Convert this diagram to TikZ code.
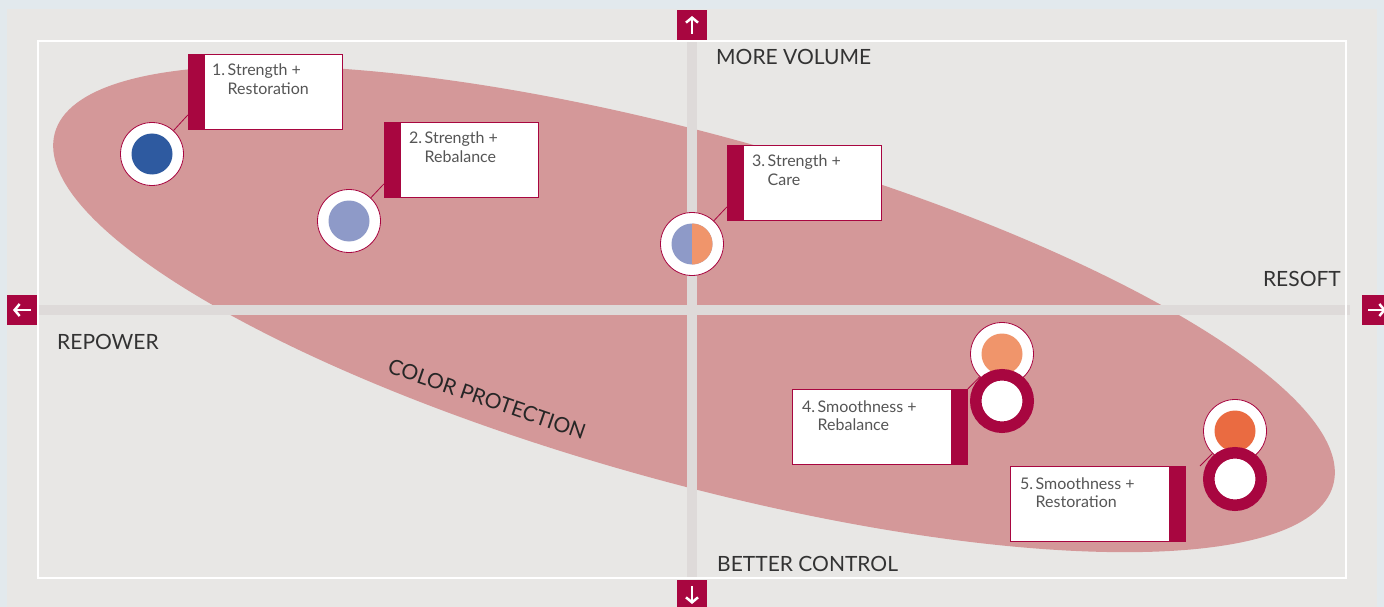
\documentclass[tikz,border=0pt]{standalone}
\usepackage{fontspec}
\setmainfont{Lato}
\usetikzlibrary{positioning,arrows.meta}
\definecolor{crim}{HTML}{A80640}
\definecolor{blush}{HTML}{D49899}
\definecolor{panel}{HTML}{E8E7E5}
\definecolor{frost}{HTML}{E2E9ED}
\definecolor{track}{HTML}{DEDAD9}
\definecolor{navy}{HTML}{2E5AA0}
\definecolor{lilac}{HTML}{8E9AC8}
\definecolor{peach}{HTML}{F0956B}
\definecolor{rust}{HTML}{EA6B41}
\definecolor{ink}{HTML}{333333}
\definecolor{slate}{HTML}{555555}
\newcommand{\entry}[3]{\begin{tabular}[t]{@{}p{15.5pt}@{}l@{}}#1&#2\\&#3\end{tabular}}

\begin{document}
\begin{tikzpicture}[x=1pt,y=-1pt]
\tikzstyle{axis}=[inner sep=0, text=ink, font=\fontsize{21}{25}\selectfont]
\tikzstyle{lbox}=[rectangle, draw=crim, fill=white, line width=0.8pt, minimum height=75pt, inner sep=0, anchor=north west]
\tikzstyle{lbl}=[inner sep=0, text=slate, font=\fontsize{16}{18.5}\selectfont, anchor=base west]
\tikzstyle{dot}=[circle, draw=crim, fill=white, line width=0.8pt, minimum size=63pt, inner sep=0]
\tikzstyle{ring}=[circle, draw=crim, fill=white, line width=11.5pt, minimum size=52.5pt, inner sep=0]
\tikzstyle{connect}=[crim, line width=0.8pt]
\tikzstyle{tab}=[fill=crim, minimum size=30pt, inner sep=0]
\tikzstyle{point}=[white, line width=2.5pt, -{Straight Barb[length=5pt,width=12pt]}]
\useasboundingbox (0,0) rectangle (1384,607);
\clip (0,0) rectangle (1384,607);
\fill[frost] (0,0) rectangle (1384,607);
\fill[panel] (7,9) rectangle (1377,607);
% colour protection zone
\fill[blush, rotate around={-15.4:(694,309)}] (694,309) ellipse (663 and 174);
\fill[track] (687,41) rectangle (697,578);
\fill[track] (37,305) rectangle (1350,315);
\draw[white, line width=2pt] (38,41) rectangle (1346,578);
% axis ends
\node[tab] (up) at (692,25) {};
\node[tab] (down) at (692,595) {};
\node[tab] (left) at (22,310) {};
\node[tab] (right) at (1377,310) {};
\draw[point] ([yshift=-9pt]up.center) -- ([yshift=9pt]up.center);
\draw[point] ([yshift=9pt]down.center) -- ([yshift=-9pt]down.center);
\draw[point] ([xshift=9pt]left.center) -- ([xshift=-9pt]left.center);
\draw[point] ([xshift=-9pt]right.center) -- ([xshift=9pt]right.center);
\node[axis, anchor=base west] (vol) at (716,65) {MORE VOLUME};
\node[axis, anchor=base east] (soft) at (1341,286) {RESOFT};
\node[axis, anchor=base west] (power) at (57,349) {REPOWER};
\node[axis, anchor=base west] (ctrl) at (717,571) {BETTER CONTROL};
\node[inner sep=0, text=black!85, font=\fontsize{21}{25}\selectfont, rotate=-19] (cp) at (487,399) {COLOR PROTECTION};
% markers
\node[dot] (c1) at (152,154) {};
\node[dot] (c2) at (349,221) {};
\node[dot] (c3) at (692,244) {};
\node[dot] (c4) at (1002,354) {};
\node[dot] (c5) at (1235,431) {};
% label boxes
\node[lbox, minimum width=154pt] (b1) at (188,54) {};
\node[lbox, minimum width=154pt] (b2) at (384,122) {};
\node[lbox, minimum width=154pt] (b3) at (727,145) {};
\node[lbox, minimum width=175pt] (b4) at (792,389) {};
\node[lbox, minimum width=175pt] (b5) at (1010,466) {};
\coordinate (p5) at (1200,466);
\path (c1) edge [connect] ([yshift=15pt]b1.south west)
      (c2) edge [connect] ([yshift=14pt]b2.south west)
      (c3) edge [connect] ([yshift=14pt]b3.south west)
      (b4.north east) edge [connect] (c4)
      (p5) edge [connect] (c5);
\fill[crim] (b1.north west) rectangle ([xshift=17pt]b1.south west);
\fill[crim] (b2.north west) rectangle ([xshift=17pt]b2.south west);
\fill[crim] (b3.north west) rectangle ([xshift=17pt]b3.south west);
\fill[crim] ([xshift=-17pt]b4.north east) rectangle (b4.south east);
\fill[crim] ([xshift=-17pt]b5.north east) rectangle (b5.south east);
\node[lbl] (t1) at ([xshift=24pt,yshift=-22pt]b1.north west) {\entry{1.}{Strength +}{Restoration}};
\node[lbl] (t2) at ([xshift=25pt,yshift=-22pt]b2.north west) {\entry{2.}{Strength +}{Rebalance}};
\node[lbl] (t3) at ([xshift=25pt,yshift=-22pt]b3.north west) {\entry{3.}{Strength +}{Care}};
\node[lbl] (t4) at ([xshift=10pt,yshift=-23pt]b4.north west) {\entry{4.}{Smoothness +}{Rebalance}};
\node[lbl] (t5) at ([xshift=10pt,yshift=-23pt]b5.north west) {\entry{5.}{Smoothness +}{Restoration}};
% marker fills
\fill[navy] (c1) circle[radius=20.5pt];
\fill[lilac] (c2) circle[radius=20.5pt];
\fill[lilac] (c3) circle[radius=20.5pt];
\fill[peach] ([yshift=-20.5pt]c3.center) arc[start angle=-90, end angle=90, radius=20.5pt] -- cycle;
\fill[peach] (c4) circle[radius=20.5pt];
\fill[rust] (c5) circle[radius=20.5pt];
\node[ring] (r4) at (1002,401) {};
\node[ring] (r5) at (1235,479) {};
\end{tikzpicture}
\end{document}
